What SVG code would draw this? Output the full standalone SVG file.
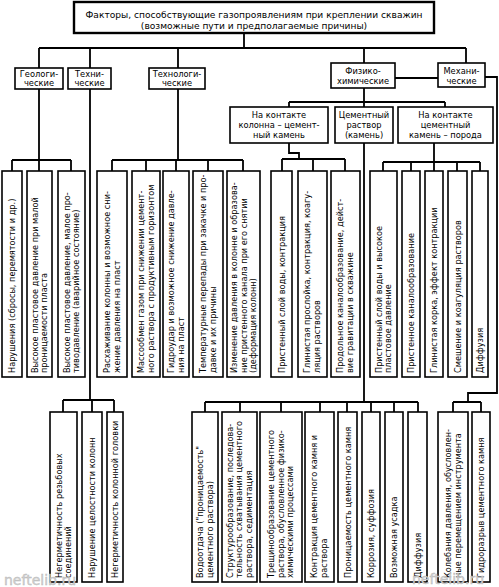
<svg xmlns="http://www.w3.org/2000/svg" width="499" height="587" viewBox="0 0 499 587">
<style>
.box{fill:#fff;stroke:#000;stroke-width:1.6}
.tb{fill:#fff;stroke:#000;stroke-width:2.4}
.c{fill:none;stroke:#000;stroke-width:1.8}
.t{font-family:"DejaVu Sans",sans-serif;font-size:8.3px;fill:#000;text-anchor:middle}
.h{font-size:9.1px}
.v{font-family:"DejaVu Sans",sans-serif;font-size:8.2px;fill:#000}
.wm{font-family:"DejaVu Sans",sans-serif;font-size:14px;fill:#d0d0d0;stroke:#b8b8b8;stroke-width:0.4}
</style>
<rect width="499" height="587" fill="#fff"/>
<g id="connectors">
<path class="c" d="M244 33V48M39 48H466M39 48V68M90 48V68M178 48V68M364 48V63M466 48V63"/>
<path class="c" d="M39 89V160M12 160H71M12 160V171M39 160V171M71 160V171"/>
<path class="c" d="M90 89V400M63 400H114M63 400V412M92 400V412M114 400V412"/>
<path class="c" d="M178 89V160M112 160H243M112 160V171M146 160V171M176 160V171M208 160V171M243 160V171"/>
<path class="c" d="M364 88V102M289 102H445M289 102V107M364 102V107M445 102V107"/>
<path class="c" d="M289 143V153H299V159M282 159H345M282 159V171M313 159V171M345 159V171"/>
<path class="c" d="M364 143V402M205 402H418M205 402V412M240 402V412M281 402V412M320 402V412M347 402V412M371 402V412M394 402V412M418 402V412"/>
<path class="c" d="M434 143V162M383 162H480M383 162V171M411 162V171M434 162V171M457 162V171M480 162V171"/>
<path class="c" d="M395 78H438M485 77H497V393H468V402M453 402H481M453 402V412M481 402V412"/>
</g>
<g id="title"><rect class="tb" x="74" y="2" width="360" height="31"/>
<text class="t h" x="254" y="18">Факторы, способствующие газопроявлениям при креплении скважин</text>
<text class="t h" x="254" y="29">(возможные пути и предполагаемые причины)</text></g>
<g id="geol"><rect class="box" x="15" y="68" width="48" height="21"/><text class="t" x="39" y="77">Геологи-</text><text class="t" x="39" y="86">ческие</text></g>
<g id="tech"><rect class="box" x="68" y="68" width="43" height="21"/><text class="t" x="89.5" y="77">Техни-</text><text class="t" x="89.5" y="86">ческие</text></g>
<g id="technol"><rect class="box" x="149" y="68" width="56" height="21"/><text class="t" x="177" y="77">Технологи-</text><text class="t" x="177" y="86">ческие</text></g>
<g id="phys"><rect class="box" x="331" y="63" width="64" height="25"/><text class="t" x="363" y="74">Физико-</text><text class="t" x="363" y="84">химические</text></g>
<g id="mech"><rect class="box" x="438" y="63" width="47" height="24"/><text class="t" x="461.5" y="74">Механи-</text><text class="t" x="461.5" y="84">ческие</text></g>
<g id="p-casing"><rect class="box" x="230" y="107" width="98" height="36"/><text class="t" x="279" y="118">На контакте</text><text class="t" x="279" y="128">колонна – цемент-</text><text class="t" x="279" y="138">ный камень</text></g>
<g id="p-cement"><rect class="box" x="335" y="107" width="58" height="36"/><text class="t" x="364" y="118">Цементный</text><text class="t" x="364" y="128">раствор</text><text class="t" x="364" y="138">(камень)</text></g>
<g id="p-rock"><rect class="box" x="398" y="107" width="95" height="36"/><text class="t" x="445.5" y="118">На контакте</text><text class="t" x="445.5" y="128">цементный</text><text class="t" x="445.5" y="138">камень – порода</text></g>

<g id="g1"><rect class="box" x="2" y="171" width="20" height="206"/><text class="v" transform="translate(15,373) rotate(-90)">Нарушения (сбросы, перемятости и др.)</text></g>
<g id="g2"><rect class="box" x="27" y="171" width="25" height="206"/><text class="v" transform="translate(37.5,373) rotate(-90)">Высокое пластовое давление при малой</text><text class="v" transform="translate(47,373) rotate(-90)">проницаемости пласта</text></g>
<g id="g3"><rect class="box" x="58" y="171" width="27" height="206"/><text class="v" transform="translate(69.5,373) rotate(-90)">Высокое пластовое давление, малое про-</text><text class="v" transform="translate(79,373) rotate(-90)">тиводавление (аварийное состояние)</text></g>
<g id="t1"><rect class="box" x="97" y="171" width="30" height="206"/><text class="v" transform="translate(110,373) rotate(-90)">Расхаживание колонны и возможное сни-</text><text class="v" transform="translate(119.5,373) rotate(-90)">жение давления на пласт</text></g>
<g id="t2"><rect class="box" x="132" y="171" width="28" height="206"/><text class="v" transform="translate(144,373) rotate(-90)">Массообмен газом при снижении цемент-</text><text class="v" transform="translate(153.5,373) rotate(-90)">ного раствора с продуктивным горизонтом</text></g>
<g id="t3"><rect class="box" x="163" y="171" width="26" height="206"/><text class="v" transform="translate(174,373) rotate(-90)">Гидроудар и возможное снижение давле-</text><text class="v" transform="translate(183.5,373) rotate(-90)">ния на пласт</text></g>
<g id="t4"><rect class="box" x="193" y="171" width="30" height="206"/><text class="v" transform="translate(206,373) rotate(-90)">Температурные перепады при закачке и про-</text><text class="v" transform="translate(215.5,373) rotate(-90)">давке и их причины</text></g>
<g id="t5"><rect class="box" x="227" y="171" width="33" height="206"/><text class="v" transform="translate(237,373) rotate(-90)">Изменение давления в колонне и образова-</text><text class="v" transform="translate(246.5,373) rotate(-90)">ние пристенного канала при его снятии</text><text class="v" transform="translate(256,373) rotate(-90)">(деформация колонн)</text></g>
<g id="c1"><rect class="box" x="271" y="171" width="21" height="206"/><text class="v" transform="translate(284.5,373) rotate(-90)">Пристенный слой воды, контракция</text></g>
<g id="c2"><rect class="box" x="298" y="171" width="29" height="206"/><text class="v" transform="translate(310,373) rotate(-90)">Глинистая прослойка, контракция, коагу-</text><text class="v" transform="translate(319.5,373) rotate(-90)">ляция растворов</text></g>
<g id="c3"><rect class="box" x="331" y="171" width="29" height="206"/><text class="v" transform="translate(343,373) rotate(-90)">Продольное каналообразование, дейст-</text><text class="v" transform="translate(352.5,373) rotate(-90)">вие гравитации в скважине</text></g>
<g id="r1"><rect class="box" x="370" y="171" width="27" height="206"/><text class="v" transform="translate(381.5,373) rotate(-90)">Пристенный слой воды и высокое</text><text class="v" transform="translate(391,373) rotate(-90)">пластовое давление</text></g>
<g id="r2"><rect class="box" x="402" y="171" width="18" height="206"/><text class="v" transform="translate(414,373) rotate(-90)">Пристенное каналообразование</text></g>
<g id="r3"><rect class="box" x="425" y="171" width="18" height="206"/><text class="v" transform="translate(437,373) rotate(-90)">Глинистая корка, эффект контракции</text></g>
<g id="r4"><rect class="box" x="448" y="171" width="19" height="206"/><text class="v" transform="translate(460.5,373) rotate(-90)">Смешение и коагуляция растворов</text></g>
<g id="r5"><rect class="box" x="472" y="171" width="16" height="206"/><text class="v" transform="translate(483,373) rotate(-90)">Диффузия</text></g>

<g id="tt1"><rect class="box" x="50" y="412" width="27" height="170"/><text class="v" transform="translate(61.5,578) rotate(-90)">Негерметичность резьбовых</text><text class="v" transform="translate(71,578) rotate(-90)">соединений</text></g>
<g id="tt2"><rect class="box" x="82" y="412" width="20" height="170"/><text class="v" transform="translate(95,578) rotate(-90)">Нарушение целостности колонн</text></g>
<g id="tt3"><rect class="box" x="107" y="412" width="16" height="170"/><text class="v" transform="translate(118,578) rotate(-90)">Негерметичность колонной головки</text></g>
<g id="b1"><rect class="box" x="192" y="412" width="26" height="170"/><text class="v" transform="translate(203,578) rotate(-90)">Водоотдача ("проницаемость"</text><text class="v" transform="translate(212.5,578) rotate(-90)">цементного раствора)</text></g>
<g id="b2"><rect class="box" x="222" y="412" width="35" height="170"/><text class="v" transform="translate(232.5,578) rotate(-90)">Структурообразование, последова-</text><text class="v" transform="translate(242,578) rotate(-90)">тельность схватывания цементного</text><text class="v" transform="translate(251.5,578) rotate(-90)">раствора, седиментация</text></g>
<g id="b3"><rect class="box" x="260" y="412" width="42" height="170"/><text class="v" transform="translate(274,578) rotate(-90)">Трещинообразование цементного</text><text class="v" transform="translate(283.5,578) rotate(-90)">раствора, обусловленное физико-</text><text class="v" transform="translate(293,578) rotate(-90)">химическими процессами</text></g>
<g id="b4"><rect class="box" x="305" y="412" width="29" height="170"/><text class="v" transform="translate(317,578) rotate(-90)">Контракция цементного камня и</text><text class="v" transform="translate(326.5,578) rotate(-90)">раствора</text></g>
<g id="b5"><rect class="box" x="338" y="412" width="19" height="170"/><text class="v" transform="translate(350.5,578) rotate(-90)">Проницаемость цементного камня</text></g>
<g id="b6"><rect class="box" x="362" y="412" width="18" height="170"/><text class="v" transform="translate(374,578) rotate(-90)">Коррозия, суффозия</text></g>
<g id="b7"><rect class="box" x="385" y="412" width="18" height="170"/><text class="v" transform="translate(397,578) rotate(-90)">Возможная усадка</text></g>
<g id="b8"><rect class="box" x="408" y="412" width="19" height="170"/><text class="v" transform="translate(420.5,578) rotate(-90)">Диффузия</text></g>
<g id="m1"><rect class="box" x="438" y="412" width="30" height="170"/><text class="v" transform="translate(451,578) rotate(-90)">Колебания давления, обусловлен-</text><text class="v" transform="translate(460.5,578) rotate(-90)">ные перемещением инструмента</text></g>
<g id="m2"><rect class="box" x="472" y="412" width="18" height="170"/><text class="v" transform="translate(484,578) rotate(-90)">Гидроразрыв цементного камня</text></g>
<text class="wm" x="4" y="585">neftelib.ru</text>
<text class="wm" x="412" y="584">neftelib.ru</text>
</svg>
